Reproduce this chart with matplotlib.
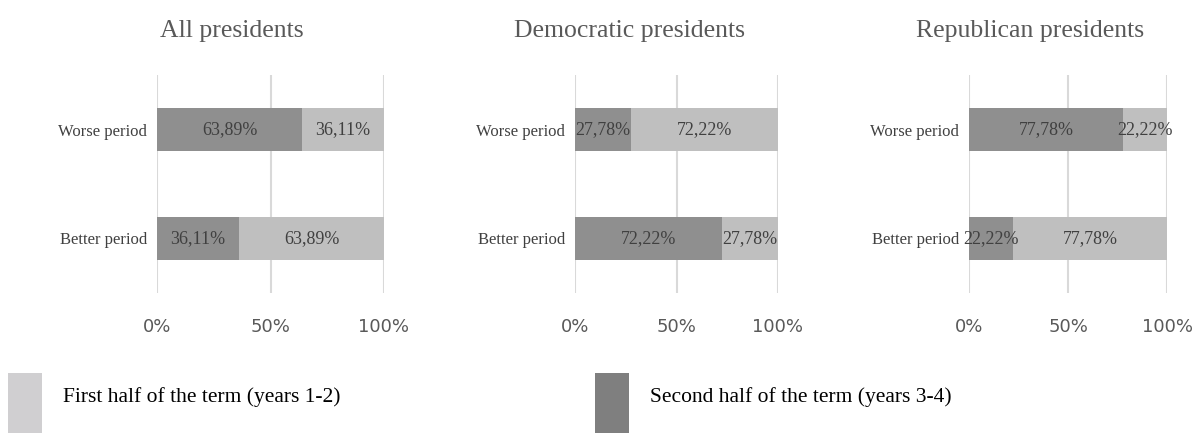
import matplotlib
matplotlib.use("Agg")
import matplotlib.pyplot as plt
from matplotlib.patches import Rectangle

W, H = 1197, 433

categories = ["Better period", "Worse period"]
panel_titles = ["All presidents", "Democratic presidents", "Republican presidents"]
# second half of the term (years 3-4), per category
second_half = [
    [36.11, 63.89],
    [72.22, 27.78],
    [22.22, 77.78],
]
# first half of the term (years 1-2), per category
first_half = [
    [63.89, 36.11],
    [27.78, 72.22],
    [77.78, 22.22],
]
ticks = [0, 50, 100]
tick_labels = ["0%", "50%", "100%"]
legend_labels = ["First half of the term (years 1-2)", "Second half of the term (years 3-4)"]

DARK = "#8f8f8f"
LIGHT = "#bfbfbf"
SERIF = "Liberation Serif"

# panel geometry in pixels: (x0 at 0%, x1 at 100%), title center x
panels = [(157, 384, 232), (575, 778, 630), (969, 1167, 1030)]
y_top, y_bot = 75, 293

fig = plt.figure(figsize=(W / 100, H / 100), dpi=100)


def fmt(v):
    return f"{v:.2f}%".replace(".", ",")


for i, (x0, x1, tx) in enumerate(panels):
    ax = fig.add_axes([x0 / W, (H - y_bot) / H, (x1 - x0) / W, (y_bot - y_top) / H])
    y = range(len(categories))
    ax.barh(y, second_half[i], height=0.39, color=DARK, zorder=2)
    ax.barh(y, first_half[i], left=second_half[i], height=0.39, color=LIGHT, zorder=2)
    for k in y:
        s, f = second_half[i][k], first_half[i][k]
        ax.text(s / 2, k, fmt(s), ha="center", va="center", fontsize=13,
                family=SERIF, color="#404040", zorder=3)
        ax.text(s + f / 2, k, fmt(f), ha="center", va="center", fontsize=13,
                family=SERIF, color="#404040", zorder=3)
    ax.set_xlim(0, 100)
    ax.set_ylim(-0.5, 1.5)
    ax.set_xticks(ticks)
    ax.set_xticklabels(tick_labels, fontsize=13, color="#595959", family="DejaVu Sans")
    ax.set_yticks(list(y))
    ax.set_yticklabels(categories, fontsize=12, family=SERIF, color="#404040")
    ax.tick_params(length=0, pad=7)
    ax.tick_params(axis="x", pad=18)
    ax.xaxis.grid(True, color="#d9d9d9", linewidth=1.5, zorder=0)
    ax.set_axisbelow(True)
    for sp in ax.spines.values():
        sp.set_visible(False)
    fig.text(tx / W, 1 - 37 / H, panel_titles[i], ha="center", va="baseline",
             fontsize=18.5, family=SERIF, color="#595959")

# legend
for (px, tx0), col, lab in zip([(8, 63), (595, 650)], ["#d0cfd1", "#7f7f7f"], legend_labels):
    fig.add_artist(Rectangle((px / W, 0), 34 / W, 60 / H, transform=fig.transFigure,
                             color=col, lw=0))
    fig.text(tx0 / W, 1 - 402 / H, lab, ha="left", va="baseline", fontsize=15.5,
             family=SERIF, color="black")

fig.savefig("out.png", dpi=100)
